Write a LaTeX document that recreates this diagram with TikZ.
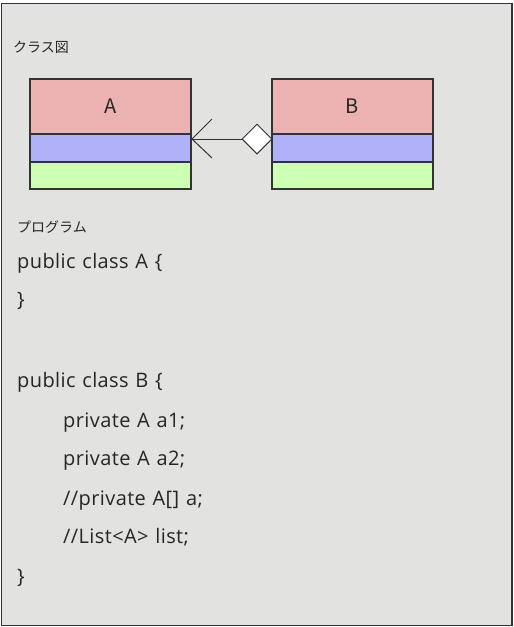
\documentclass[tikz,border=0pt]{standalone}
\usepackage{fontspec}
\setmainfont{Noto Sans CJK JP}
\newfontfamily\codefont{Open Sans}[LetterSpace=2.0,WordSpace=1.2]
\usetikzlibrary{shapes.geometric,arrows.meta}
\definecolor{bgc}{HTML}{E2E2E1}
\definecolor{redc}{HTML}{ECB1B1}
\definecolor{bluec}{HTML}{B1B1FA}
\definecolor{greenc}{HTML}{CCFFB4}
\definecolor{linec}{HTML}{333333}
\definecolor{txtc}{HTML}{262626}
\tikzset{
  seg/.style={draw=linec, line width=1.3pt, inner sep=0pt, outer sep=0pt, anchor=north west},
  code/.style={anchor=base west, inner sep=0pt, font=\codefont\fontsize{20}{20}\selectfont, text=txtc},
  jp/.style={anchor=west, inner sep=0pt, font=\fontsize{14}{14}\selectfont, text=txtc},
}
\begin{document}
\begin{tikzpicture}[x=1pt,y=-1pt]
\useasboundingbox (0,0) rectangle (514,627);
\draw[fill=bgc, draw=linec, line width=1.2pt] (1.5,3.5) rectangle (512,625.5);
\node[jp] (t1) at (13,47) {クラス図};
% class A
\node[seg, fill=redc, minimum width=161pt, minimum height=55pt] (Ar) at (30,79) {};
\node[seg, fill=bluec, minimum width=161pt, minimum height=28pt] (Ab) at (30,134) {};
\node[seg, fill=greenc, minimum width=161pt, minimum height=27pt] (Ag) at (30,162) {};
\node[font=\fontsize{20}{20}\selectfont, text=txtc] (Al) at (Ar.center) {A};
% class B
\node[seg, fill=redc, minimum width=161pt, minimum height=55pt] (Br) at (272,79) {};
\node[seg, fill=bluec, minimum width=161pt, minimum height=28pt] (Bb) at (272,134) {};
\node[seg, fill=greenc, minimum width=161pt, minimum height=27pt] (Bg) at (272,162) {};
\node[font=\fontsize{20}{20}\selectfont, text=txtc] (Bl) at (Br.center) {B};
% association
\coordinate (tipA) at (192,139);
\node[diamond, draw=linec, fill=white, line width=1pt, minimum width=30pt, minimum height=30pt, inner sep=0pt, aspect=1] (dm) at (257,139) {};
\draw[line width=1pt, draw=linec] (dm.west) -- (tipA);
\coordinate (arm1) at (212,119);
\coordinate (arm2) at (212,158);
\draw[line width=1pt, draw=linec] (arm1) -- (tipA) -- (arm2);
% program
\node[jp] (t2) at (17,227) {プログラム};
\node[code] (c1) at (17,268) {public class A \{};
\node[code] (c2) at (17,306) {\}};
\node[code] (c3) at (17,387) {public class B \{};
\node[code] (c4) at (63,427) {private A a1;};
\node[code] (c5) at (63,465) {private A a2;};
\node[code] (c6) at (63,505) {//private A[] a;};
\node[code] (c7) at (63,543) {//List<A> list;};
\node[code] (c8) at (17,583) {\}};
\end{tikzpicture}
\end{document}
